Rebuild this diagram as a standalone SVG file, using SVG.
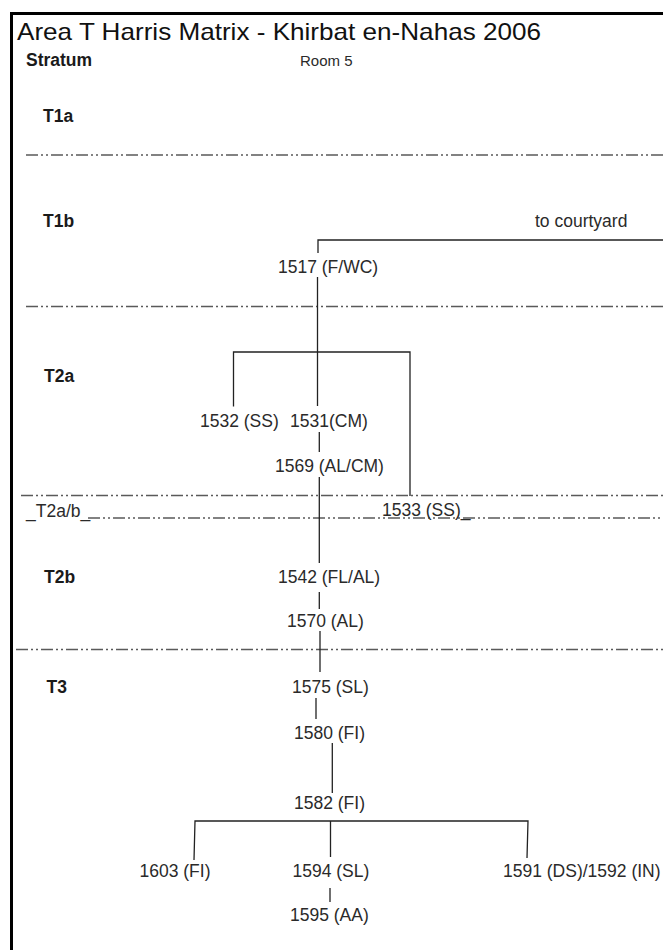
<svg xmlns="http://www.w3.org/2000/svg" width="663" height="950" viewBox="0 0 663 950">
<style>
.lbl{font-family:"Liberation Sans",Arial,sans-serif;font-size:17.5px;fill:#2a2a2a}
.str{font-family:"Liberation Sans",Arial,sans-serif;font-size:17.5px;font-weight:bold;fill:#1a1a1a}
.sep{stroke:#5a5a5a;stroke-width:1.4;stroke-dasharray:12 3 2 3 2 3;fill:none}
.con{stroke:#222;stroke-width:1.3;fill:none}
</style>
<rect width="663" height="950" fill="#fff"/>
<g id="frame">
<path d="M11.5 950 V13.5 H663" fill="none" stroke="#000" stroke-width="3"/>
<text x="17" y="39.5" font-family="'Liberation Sans',Arial,sans-serif" font-size="24" fill="#111" textLength="524" lengthAdjust="spacingAndGlyphs">Area T Harris Matrix - Khirbat en-Nahas 2006</text>
<text x="26" y="66" class="str">Stratum</text>
<text x="300" y="66" class="lbl" font-size="15" style="font-size:15px">Room 5</text>
</g>
<g id="strata">
<text x="43" y="121.5" class="str">T1a</text>
<text x="43" y="226.5" class="str">T1b</text>
<text x="44" y="381.5" class="str">T2a</text>
<text x="26" y="516.5" class="lbl">_T2a/b_</text>
<text x="44" y="583" class="str">T2b</text>
<text x="46.5" y="692.5" class="str">T3</text>
</g>
<g id="separators">
<line class="sep" x1="26" y1="155" x2="663" y2="155"/>
<line class="sep" x1="26" y1="306.5" x2="663" y2="306.5"/>
<line class="sep" x1="21" y1="495.5" x2="663" y2="495.5"/>
<line class="sep" x1="88" y1="518" x2="663" y2="518"/>
<line class="sep" x1="16" y1="649.5" x2="663" y2="649.5"/>
</g>
<g id="connectors">
<path class="con" d="M318 253 V240 H663" stroke="#444" stroke-width="1.5"/>
<path class="con" d="M317.5 277 V406"/>
<path class="con" d="M233.5 406.5 V352 H410 V496"/>
<path class="con" d="M319.3 432 V452"/>
<path class="con" d="M319.3 477 V563"/>
<path class="con" d="M319.3 592 V609"/>
<path class="con" d="M320 631 V672"/>
<path class="con" d="M316 698 V719"/>
<path class="con" d="M332.3 743 V793"/>
<path class="con" d="M194 860 L195 821 H528 L527 858"/>
<path class="con" d="M330.5 821 V857"/>
<path class="con" d="M330 888 V902"/>
</g>
<g id="n_courtyard"><text x="535" y="227" class="lbl">to courtyard</text></g>
<g id="n1517"><text x="278" y="273" class="lbl">1517 (F/WC)</text></g>
<g id="n1532"><text x="200" y="426.5" class="lbl">1532 (SS)</text></g>
<g id="n1531"><text x="290" y="426.5" class="lbl">1531(CM)</text></g>
<g id="n1569"><text x="275" y="471.5" class="lbl">1569 (AL/CM)</text></g>
<g id="n1533"><text x="382" y="515.5" class="lbl">1533 (SS)_</text></g>
<g id="n1542"><text x="278" y="582.5" class="lbl">1542 (FL/AL)</text></g>
<g id="n1570"><text x="287" y="626.5" class="lbl">1570 (AL)</text></g>
<g id="n1575"><text x="292" y="692.5" class="lbl">1575 (SL)</text></g>
<g id="n1580"><text x="294" y="738.5" class="lbl">1580 (FI)</text></g>
<g id="n1582"><text x="294" y="809" class="lbl">1582 (FI)</text></g>
<g id="n1603"><text x="139.5" y="877" class="lbl">1603 (FI)</text></g>
<g id="n1594"><text x="292.5" y="877" class="lbl">1594 (SL)</text></g>
<g id="n1591"><text x="503" y="877" class="lbl">1591 (DS)/1592 (IN)</text></g>
<g id="n1595"><text x="290" y="921" class="lbl">1595 (AA)</text></g>
</svg>
